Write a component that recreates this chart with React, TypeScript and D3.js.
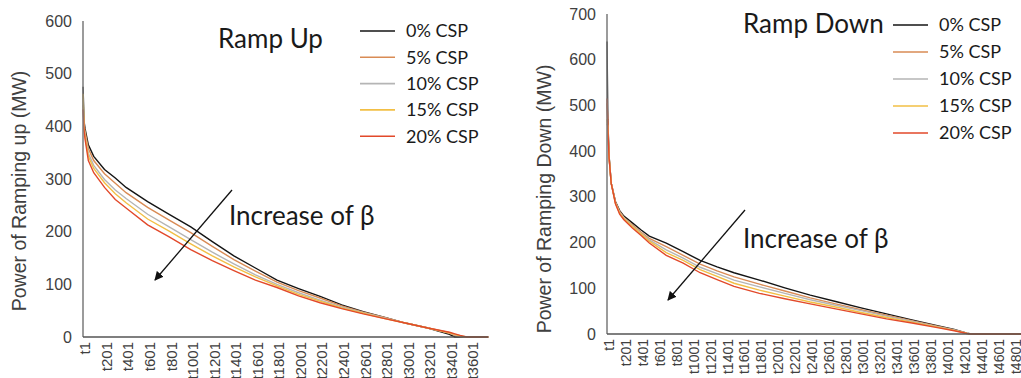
import React, { useRef, useEffect } from "react";
import * as d3 from "d3";

const seriesNames = ["0% CSP", "5% CSP", "10% CSP", "15% CSP", "20% CSP"];
const seriesColors = ["#141414", "#D98B55", "#B5B5B5", "#F2BF45", "#E2492A"];

// ramp up: 3760 hours, values sampled at these hour indices
const upCount = 3760;
const upIndex = [1, 10, 20, 50, 100, 200, 300, 400, 600, 800, 1000, 1200, 1400, 1600, 1800, 2000, 2200, 2400, 2600, 2800, 3000, 3200, 3400, 3450, 3500, 3560, 3760];
const up0 = [475, 410, 395, 365, 343, 318, 302, 284, 257, 233, 209, 181, 154, 131, 108, 92, 77, 61, 48, 37, 26, 17, 5, 0, 0, 0, 0];
const up5 = [440, 402, 390, 358, 335, 310, 292, 274, 246, 222, 198, 172, 147, 125, 104, 88, 74, 59, 47, 37, 26, 17, 7, 3, 1, 0, 0];
const up10 = [452, 398, 384, 349, 326, 299, 279, 263, 233, 209, 185, 161, 139, 118, 100, 84, 70, 57, 46, 36, 26, 17, 8, 4, 1, 0, 0];
const up15 = [462, 396, 380, 343, 320, 293, 272, 255, 224, 201, 177, 154, 133, 114, 97, 81, 68, 55, 45, 35, 26, 17, 8, 5, 2, 0, 0];
const up20 = [432, 392, 375, 335, 312, 284, 261, 245, 213, 190, 166, 145, 126, 108, 94, 78, 65, 54, 44, 35, 26, 17, 9, 6, 3, 0, 0];
const upTicks = ["t1", "t201", "t401", "t601", "t801", "t1001", "t1201", "t1401", "t1601", "t1801", "t2001", "t2201", "t2401", "t2601", "t2801", "t3001", "t3201", "t3401", "t3601"];

// ramp down: 5000 hours
const downCount = 5000;
const downIndex = [1, 10, 25, 50, 100, 150, 200, 300, 400, 500, 700, 900, 1100, 1300, 1500, 1800, 2100, 2400, 2700, 3000, 3300, 3600, 3900, 4100, 4250, 4300, 5000];
const down0 = [640, 470, 390, 330, 290, 270, 258, 243, 228, 214, 199, 180, 161, 147, 134, 118, 101, 85, 71, 57, 44, 31, 18, 10, 2, 0, 0];
const down5 = [505, 462, 388, 330, 289, 268, 255, 239, 223, 209, 191, 172, 153, 138, 125, 109, 94, 79, 66, 53, 41, 29, 17, 9, 2, 0, 0];
const down10 = [460, 455, 387, 330, 287, 266, 254, 237, 221, 206, 184, 166, 146, 132, 118, 103, 89, 75, 63, 51, 39, 28, 16, 9, 2, 0, 0];
const down15 = [470, 452, 386, 330, 286, 264, 252, 235, 219, 203, 178, 161, 141, 126, 111, 96, 83, 70, 59, 47, 36, 26, 15, 8, 1, 0, 0];
const down20 = [515, 450, 385, 330, 285, 262, 250, 232, 216, 199, 172, 155, 134, 119, 104, 89, 77, 66, 55, 44, 33, 24, 14, 7, 1, 0, 0];
const downTicks = ["t1", "t201", "t401", "t601", "t801", "t1001", "t1201", "t1401", "t1601", "t1801", "t2001", "t2201", "t2401", "t2601", "t2801", "t3001", "t3201", "t3401", "t3601", "t3801", "t4001", "t4201", "t4401", "t4601", "t4801"];

const axisFont = "'Liberation Sans', Arial, sans-serif";
const textFont = "Lato, 'Open Sans', sans-serif";

function drawPanel(svg, cfg) {
  const x = d3.scaleLinear().domain([0, cfg.count]).range([cfg.x0, cfg.x0 + cfg.count * cfg.step]);
  const y = d3.scaleLinear().domain([0, cfg.yMax]).range([cfg.yBottom, cfg.yTop]);
  const g = svg.append("g");

  // y ticks
  g.selectAll(".ytick")
    .data(y.ticks(cfg.yMax / 100))
    .enter()
    .append("text")
    .attr("x", cfg.x0 - 11)
    .attr("y", (d) => y(d))
    .attr("dy", "0.35em")
    .attr("text-anchor", "end")
    .style("font-family", axisFont)
    .style("font-size", "16px")
    .style("fill", "#404040")
    .text((d) => d);

  // x tick labels (rotated)
  g.selectAll(".xtick")
    .data(cfg.ticks)
    .enter()
    .append("text")
    .attr("transform", (d) => `translate(${x(+d.slice(1) - 0.5) + 2}, ${cfg.yBottom + 5}) rotate(-90)`)
    .attr("dy", "0.35em")
    .attr("text-anchor", "end")
    .style("font-family", axisFont)
    .style("font-size", cfg.tickSize)
    .style("fill", "#404040")
    .text((d) => d);

  // axis title
  g.append("text")
    .attr("transform", `translate(${cfg.titleX}, ${cfg.titleY}) rotate(-90)`)
    .attr("text-anchor", "middle")
    .style("font-family", axisFont)
    .style("font-size", "19.5px")
    .style("fill", "#404040")
    .text(cfg.yTitle);

  const line = d3
    .line()
    .x((d) => x(d[0] - 0.5))
    .y((d) => y(d[1]));

  cfg.series.forEach((vals, k) => {
    g.append("path")
      .datum(cfg.index.map((idx, j) => [idx, vals[j]]))
      .attr("d", line)
      .attr("fill", "none")
      .attr("stroke", seriesColors[k])
      .attr("stroke-width", 1.4);
  });

  // axes
  g.append("line")
    .attr("x1", cfg.x0).attr("x2", cfg.x0)
    .attr("y1", cfg.yTop).attr("y2", cfg.yBottom)
    .attr("stroke", "#7a7a7a").attr("stroke-width", 1.5);
  g.append("line")
    .attr("x1", cfg.x0).attr("x2", x(cfg.count))
    .attr("y1", cfg.yBottom).attr("y2", cfg.yBottom)
    .attr("stroke", "#555").attr("stroke-width", 1.5);

  // title
  g.append("text")
    .attr("x", cfg.nameX)
    .attr("y", cfg.nameY)
    .style("font-family", textFont)
    .style("font-size", "26px")
    .style("fill", "#1a1a1a")
    .text(cfg.name);

  // legend
  seriesNames.forEach((name, k) => {
    const ly = cfg.legY + k * cfg.legGap;
    g.append("line")
      .attr("x1", cfg.legX).attr("x2", cfg.legX + 35)
      .attr("y1", ly).attr("y2", ly)
      .attr("stroke", seriesColors[k]).attr("stroke-width", 1.6);
    g.append("text")
      .attr("x", cfg.legX + 46)
      .attr("y", ly)
      .attr("dy", "0.35em")
      .style("font-family", textFont)
      .style("font-size", "18px")
      .style("fill", "#1a1a1a")
      .text(name);
  });

  // arrow + annotation
  g.append("line")
    .attr("x1", cfg.arrow[0]).attr("y1", cfg.arrow[1])
    .attr("x2", cfg.arrow[2]).attr("y2", cfg.arrow[3])
    .attr("stroke", "#111").attr("stroke-width", 1.3)
    .attr("marker-end", "url(#arrowHead)");
  g.append("text")
    .attr("x", cfg.noteX)
    .attr("y", cfg.noteY)
    .style("font-family", textFont)
    .style("font-size", "26px")
    .style("fill", "#1a1a1a")
    .text("Increase of β");
}

const App = () => {
  const ref = useRef(null);

  useEffect(() => {
    const svg = d3.select(ref.current);
    svg.selectAll("*").remove();
    svg
      .append("defs")
      .append("marker")
      .attr("id", "arrowHead")
      .attr("viewBox", "0 0 10 10")
      .attr("refX", 9)
      .attr("refY", 5)
      .attr("markerWidth", 9)
      .attr("markerHeight", 9)
      .attr("markerUnits", "userSpaceOnUse")
      .attr("orient", "auto")
      .append("path")
      .attr("d", "M0,0 L10,5 L0,10 Z")
      .attr("fill", "#111");

    drawPanel(svg, {
      count: upCount, index: upIndex, series: [up0, up5, up10, up15, up20], ticks: upTicks,
      x0: 83, step: 0.1078, yMax: 600, yTop: 21, yBottom: 337, tickSize: "15px",
      yTitle: "Power of Ramping up (MW)", titleX: 26, titleY: 191,
      name: "Ramp Up", nameX: 218, nameY: 48,
      legX: 360, legY: 31, legGap: 26.3,
      arrow: [232, 190, 155, 280], noteX: 229, noteY: 225,
    });

    drawPanel(svg, {
      count: downCount, index: downIndex, series: [down0, down5, down10, down15, down20], ticks: downTicks,
      x0: 607, step: 0.0847, yMax: 700, yTop: 14, yBottom: 334, tickSize: "14px",
      yTitle: "Power of Ramping Down (MW)", titleX: 551, titleY: 199,
      name: "Ramp Down", nameX: 743, nameY: 33,
      legX: 893, legY: 25, legGap: 27,
      arrow: [745, 210, 668, 300], noteX: 743, noteY: 248,
    });
  }, []);

  return (
    <svg
      ref={ref}
      width={1021}
      height={378}
      style={{ position: "absolute", left: 0, top: 0, display: "block", background: "#fff", overflow: "hidden" }}
    ></svg>
  );
};

export default App;
